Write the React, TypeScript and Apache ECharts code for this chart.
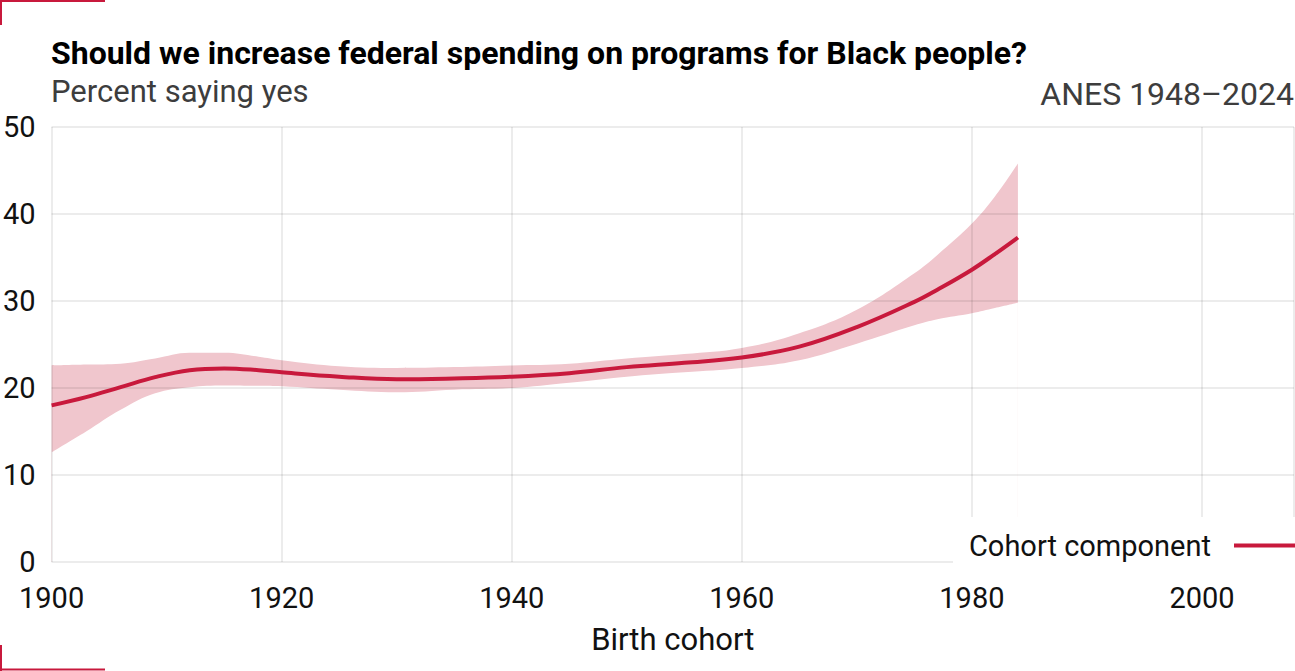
import React, { useEffect, useRef } from "react";
import * as echarts from "echarts";

const years = [1900, 1903, 1906, 1909, 1912, 1915, 1918, 1920, 1925, 1930, 1935, 1940, 1945, 1950, 1955, 1960, 1965, 1970, 1975, 1977, 1980, 1982, 1984];
const estimate = [18.0, 18.95, 20.1, 21.25, 22.05, 22.25, 22.05, 21.8, 21.3, 21.0, 21.1, 21.3, 21.7, 22.4, 22.9, 23.5, 24.75, 27.0, 29.9, 31.3, 33.6, 35.4, 37.3];
const upper = [22.6, 22.7, 22.8, 23.4, 24.05, 24.05, 23.6, 23.2, 22.5, 22.3, 22.4, 22.6, 22.8, 23.4, 23.9, 24.6, 26.3, 29.0, 33.2, 35.3, 38.9, 42.0, 45.8];
const lower = [12.6, 15.0, 17.5, 19.4, 20.1, 20.3, 20.25, 20.2, 19.8, 19.5, 19.8, 20.0, 20.6, 21.3, 21.8, 22.3, 23.2, 25.1, 27.2, 27.9, 28.6, 29.2, 29.8];
const xTicks = [1900, 1920, 1940, 1960, 1980, 2000];
const yTicks = [0, 10, 20, 30, 40, 50];

const RED = "#c8193c";
const BAND = "#f0c6cd";
const FONT = "Roboto";
const GRID = "rgba(0,0,0,0.1)";
const SMOOTH = 0.4;

export default function App() {
  const ref = useRef<HTMLDivElement>(null);
  useEffect(() => {
    const chart = echarts.init(ref.current!, null, { renderer: "svg" });
    const option: any = {
      animation: false,
      textStyle: { fontFamily: FONT },
      grid: { left: 51, right: 1, top: 127, bottom: 109, containLabel: false },
      xAxis: {
        type: "value",
        min: 1900,
        max: 2008,
        interval: 20,
        z: 2,
        name: "Birth cohort",
        nameLocation: "middle",
        nameGap: 62,
        nameTextStyle: { fontFamily: FONT, fontSize: 31, color: "#111" },
        axisLine: { show: false },
        axisTick: { show: false },
        axisLabel: {
          fontFamily: FONT,
          fontSize: 29,
          color: "#111",
          margin: 21,
          showMaxLabel: false,
          formatter: (v: number) => (xTicks.includes(v) ? String(v) : ""),
        },
        splitLine: { show: true, lineStyle: { color: GRID, width: 1.5 } },
      },
      yAxis: {
        type: "value",
        min: 0,
        max: 50,
        interval: 10,
        z: 2,
        axisLine: { show: false },
        axisTick: { show: false },
        axisLabel: {
          fontFamily: FONT,
          fontSize: 29,
          color: "#111",
          margin: 16,
          padding: [12, 0, 0, 0],
          formatter: (v: number) => (yTicks.includes(v) ? String(v) : ""),
        },
        splitLine: { show: true, lineStyle: { color: GRID, width: 1.5 } },
      },
      legend: {
        data: [{ name: "Cohort component", icon: "rect" }],
        right: 0,
        top: 517,
        align: "right",
        backgroundColor: "#ffffff",
        padding: [14, 0, 14, 16],
        itemWidth: 61,
        itemHeight: 4,
        itemGap: 0,
        z: 6,
        textStyle: { fontFamily: FONT, fontSize: 29, color: "#111", padding: [0, 18, 0, 0] },
      },
      title: [
        {
          text: "Should we increase federal spending on programs for Black people?",
          left: 51,
          top: 37,
          padding: 0,
          textStyle: { fontFamily: FONT, fontSize: 32, fontWeight: "bold", color: "#000" },
        },
        {
          text: "Percent saying yes",
          left: 51,
          top: 76,
          padding: 0,
          textStyle: { fontFamily: FONT, fontSize: 31, fontWeight: "normal", color: "#3d3d3d" },
        },
        {
          text: "ANES 1948–2024",
          right: 1,
          top: 78,
          padding: 0,
          textStyle: { fontFamily: FONT, fontSize: 32, fontWeight: "normal", color: "#3d3d3d" },
        },
      ],
      graphic: [
        { type: "line", shape: { x1: 0, y1: 1, x2: 105, y2: 1 }, style: { stroke: RED, lineWidth: 2 } },
        { type: "line", shape: { x1: 1, y1: 0, x2: 1, y2: 25 }, style: { stroke: RED, lineWidth: 2 } },
        { type: "line", shape: { x1: 1, y1: 645, x2: 1, y2: 671 }, style: { stroke: RED, lineWidth: 2 } },
        { type: "line", shape: { x1: 0, y1: 669.5, x2: 105, y2: 669.5 }, style: { stroke: RED, lineWidth: 2 } },
      ],
      series: [
        {
          name: "upper",
          type: "line",
          smooth: SMOOTH,
          symbol: "none",
          lineStyle: { opacity: 0 },
          areaStyle: { color: BAND, opacity: 1, origin: "start" },
          data: years.map((y, i) => [y, upper[i]]),
          silent: true,
          z: 1,
        },
        {
          name: "lower",
          type: "line",
          smooth: SMOOTH,
          symbol: "none",
          lineStyle: { opacity: 0 },
          areaStyle: { color: "#ffffff", opacity: 1, origin: "start" },
          data: years.map((y, i) => [y, lower[i]]),
          silent: true,
          z: 1,
        },
        {
          name: "Cohort component",
          type: "line",
          smooth: SMOOTH,
          symbol: "none",
          color: RED,
          itemStyle: { color: RED },
          lineStyle: { color: RED, width: 4 },
          data: years.map((y, i) => [y, estimate[i]]),
          z: 3,
        },
      ],
    };
    chart.setOption(option);
    return () => chart.dispose();
  }, []);
  return (
    <div
      ref={ref}
      style={{ position: "fixed", left: 0, top: 0, width: 1295, height: 671, background: "#fff" }}
    />
  );
}
